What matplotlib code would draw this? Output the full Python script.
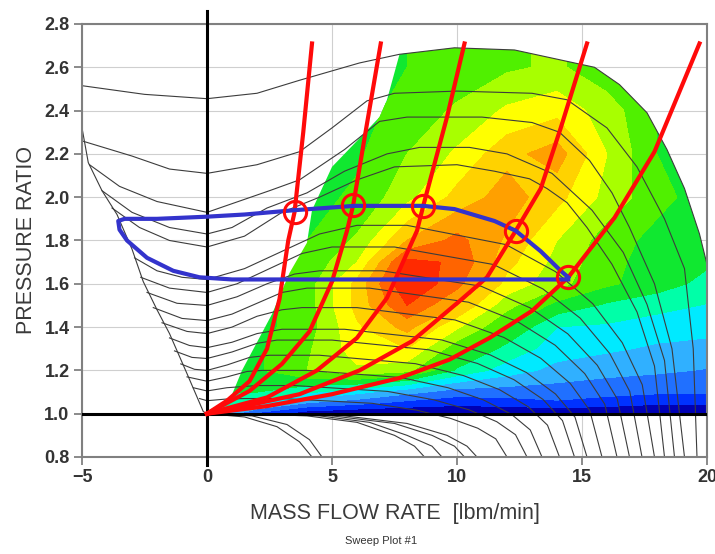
import numpy as np
import matplotlib
matplotlib.use("Agg")
import matplotlib.pyplot as plt
from matplotlib.patches import Polygon

plt.rcParams['font.family'] = ['Liberation Sans', 'DejaVu Sans']

# efficiency field (percent)
EFF_X = [0, 2, 4, 6, 8, 10, 12, 14, 16, 18, 20]
EFF_Y = [1.0, 1.05, 1.1, 1.2, 1.3, 1.4, 1.5, 1.6, 1.7, 1.8, 2.0, 2.2, 2.4, 2.6, 2.8]
EFF = [
    [55, 45, 41, 40, 40, 40, 40, 40, 40, 40, 40],
    [57, 54, 49, 47, 45, 44, 44.5, 45.5, 44.5, 43.5, 43.5],
    [58, 58, 55.5, 53, 50, 47.5, 47.5, 47.5, 47, 46.5, 46.5],
    [59, 60.5, 64, 66.5, 65, 57.5, 53.5, 51, 50, 49.5, 48.8],
    [59, 60.5, 63.5, 68.5, 70, 62, 57, 53.5, 52.5, 51.5, 51],
    [59, 60, 62.5, 69.5, 74, 67.5, 61, 55, 54.5, 53.5, 53],
    [59, 60, 62.5, 71, 79, 73, 65, 60, 57.5, 56, 54.8],
    [59, 60, 62.5, 71, 82, 77, 69, 65, 61.5, 59.5, 57],
    [59, 60, 61.5, 67, 80, 78.5, 71, 66, 62, 59.5, 58.5],
    [59, 60, 61, 64.5, 73, 77, 72.5, 67, 62.5, 60, 59],
    [59, 60, 60, 61.5, 66, 71, 74.5, 71, 66, 62, 59.5],
    [59, 60, 60, 60.5, 64, 67.5, 72, 74.5, 67, 61, 58],
    [59, 60, 60, 60, 62, 64.5, 67.5, 69, 65.5, 61, 58],
    [59, 60, 60, 60, 61, 62, 63.5, 64.5, 62, 59.5, 57],
    [59, 60, 60, 60, 61, 62, 63.5, 64.5, 62, 59.5, 57],
]
EFF_LEVELS = [30, 43, 46, 49, 52, 55, 58, 61, 64, 67, 70, 73, 76, 79, 90]
EFF_COLORS = ['#0000b4', '#0032ff', '#2070ff', '#30b0ff', '#00eaff', '#00ffa8',
              '#10e830', '#50f000', '#a8ff00', '#ffff00', '#ffd200', '#ffa000',
              '#ff6400', '#ff2a00']

# map envelope (surge line, top speed, choke side)
ENV_X = [0, 0.9, 1.4, 2.6, 3.3, 4.0, 4.2, 5.0, 6.0, 6.9, 7.2, 7.7, 9.9, 12.3,
         13.9, 15.5, 16.5, 17.6, 18.4, 19.1, 19.7, 20.3, 20.3, 0]
ENV_Y = [1.0, 1.06, 1.2, 1.46, 1.65, 1.79, 1.94, 2.14, 2.26, 2.37, 2.45, 2.66, 2.69,
         2.68, 2.64, 2.60, 2.52, 2.39, 2.22, 2.04, 1.83, 1.55, 1.0, 1.0]

# speed lines
SPEED_LINES = [
    ([-5, -2.5, 0, 2, 3.7, 6.1, 7.7, 9.9, 12.3, 13.9, 15.5, 16.5, 17.6, 18.4, 19.1, 19.7, 20.3],
     [2.515, 2.475, 2.455, 2.48, 2.54, 2.62, 2.66, 2.69, 2.68, 2.64, 2.60, 2.52, 2.39, 2.22, 2.04, 1.83, 1.55]),
    ([-5, -3, -1.5, 0, 2, 3.7, 5, 6.4, 7.5, 10, 13, 14.4, 16.0, 17.2, 18.3, 19.1, 19.45, 19.6],
     [2.26, 2.19, 2.13, 2.11, 2.15, 2.21, 2.32, 2.445, 2.48, 2.49, 2.48, 2.45, 2.32, 2.14, 1.9, 1.67, 1.3, 0.8]),
    ([-4.7, -3.5, -2, 0, 1, 2.5, 3.7, 5.5, 6.9, 8, 11, 13, 14.1, 15.3, 16.2, 16.9, 17.9, 18.6, 19.1],
     [2.15, 2.05, 1.98, 1.93, 1.97, 2.03, 2.08, 2.22, 2.35, 2.37, 2.37, 2.345, 2.3, 2.17, 2.02, 1.86, 1.6, 1.3, 0.8]),
    ([-4.2, -3, -1.5, 0, 1, 2.4, 4, 5.5, 7.2, 8.5, 10.5, 12, 13.8, 15.4, 16.65, 17.6, 18.3, 18.7],
     [2.03, 1.93, 1.86, 1.83, 1.86, 1.95, 2.02, 2.12, 2.2, 2.23, 2.23, 2.2, 2.11, 1.94, 1.745, 1.505, 1.246, 0.8]),
    ([-3.8, -2.7, -1.5, 0, 1.5, 3.0, 4.5, 6, 7.5, 10, 11.5, 12.9, 13.6, 14.4, 15.2, 16.2, 17.2, 17.9, 18.3],
     [1.95, 1.86, 1.8, 1.77, 1.82, 1.93, 2.0, 2.08, 2.14, 2.15, 2.12, 2.085, 2.04, 1.975, 1.86, 1.69, 1.47, 1.22, 0.8]),
    ([-2.9, -2, -1, 0, 1.5, 3, 4.5, 6, 8, 11.96, 13.94, 15.43, 16.61, 17.41, 17.9],
     [1.72, 1.66, 1.63, 1.62, 1.67, 1.75, 1.83, 1.87, 1.87, 1.781, 1.656, 1.508, 1.328, 1.134, 0.8]),
    ([-2.65, -1.5, 0, 1.2, 2.5, 3.8, 5, 7.5, 11.46, 13.44, 14.93, 16.11, 16.91, 17.4],
     [1.63, 1.58, 1.56, 1.6, 1.67, 1.74, 1.77, 1.77, 1.689, 1.576, 1.441, 1.278, 1.103, 0.8]),
    ([-2.4, -1.2, 0, 1.2, 2.4, 3.5, 4.5, 7, 10.96, 12.94, 14.43, 15.61, 16.41, 16.9],
     [1.56, 1.51, 1.5, 1.54, 1.6, 1.645, 1.66, 1.66, 1.589, 1.488, 1.369, 1.224, 1.068, 0.8]),
    ([-2.15, -1, 0, 1, 2, 3, 4, 6.5, 10.46, 12.44, 13.93, 15.11, 15.91, 16.4],
     [1.49, 1.44, 1.43, 1.46, 1.51, 1.56, 1.58, 1.58, 1.515, 1.424, 1.316, 1.185, 1.044, 0.8]),
    ([-1.8, -0.8, 0, 1, 2, 3, 3.8, 6, 9.92, 11.88, 13.35, 14.53, 15.31, 15.8],
     [1.42, 1.38, 1.37, 1.4, 1.45, 1.48, 1.49, 1.49, 1.433, 1.352, 1.256, 1.14, 1.015, 0.8]),
    ([-1.5, -0.7, 0, 1, 2, 3, 5.5, 9.38, 11.32, 12.78, 13.94, 14.72, 15.2],
     [1.35, 1.315, 1.305, 1.33, 1.37, 1.39, 1.39, 1.341, 1.272, 1.19, 1.091, 0.984, 0.8]),
    ([-1.3, -0.6, 0, 1, 2, 2.8, 5, 8.88, 10.82, 12.28, 13.44, 14.22, 14.7],
     [1.29, 1.26, 1.255, 1.285, 1.325, 1.34, 1.34, 1.295, 1.232, 1.157, 1.066, 0.968, 0.8]),
    ([-1.05, -0.5, 0, 0.8, 1.7, 2.5, 4.5, 8.34, 10.26, 11.7, 12.85, 13.62, 14.1],
     [1.23, 1.205, 1.2, 1.225, 1.26, 1.27, 1.27, 1.231, 1.176, 1.111, 1.032, 0.947, 0.8]),
    ([-0.8, 0, 0.8, 1.6, 2.2, 4, 7.76, 9.64, 11.05, 12.18, 12.93, 13.4],
     [1.17, 1.15, 1.17, 1.195, 1.2, 1.2, 1.167, 1.12, 1.064, 0.997, 0.925, 0.8]),
    ([-0.55, 0, 0.8, 2, 3.5, 7.22, 9.08, 10.48, 11.59, 12.34, 12.8],
     [1.12, 1.105, 1.12, 1.13, 1.13, 1.103, 1.064, 1.018, 0.963, 0.903, 0.8]),
    ([-0.3, 0, 0.8, 1.5, 3, 6.6, 8.4, 9.75, 10.83, 11.55, 12.0],
     [1.07, 1.06, 1.068, 1.07, 1.07, 1.048, 1.016, 0.978, 0.933, 0.884, 0.8]),
    ([0, 1.5, 2.8, 3.7, 4.2], [1.0, 0.985, 0.94, 0.87, 0.8]),
    ([0, 1.8, 3.2, 4.1, 4.6], [1.0, 0.99, 0.95, 0.88, 0.8]),
    ([1.5, 4, 6, 7.5, 8.3, 8.7], [1.0, 0.99, 0.96, 0.9, 0.85, 0.8]),
    ([2, 4.5, 6.5, 8, 9, 9.4], [1.0, 0.99, 0.96, 0.9, 0.85, 0.8]),
    ([2.5, 5, 7.5, 9, 9.9, 10.3], [1.0, 0.99, 0.955, 0.9, 0.85, 0.8]),
    ([3, 5.5, 8, 9.6, 10.4, 10.8], [1.0, 0.99, 0.955, 0.9, 0.85, 0.8]),
    # stall boundary on the negative-flow side
    ([-5, -4.75, -4.2, -3.6, -3.0, -2.55, -2.0, -1.5, -0.8, -0.15, 0],
     [2.32, 2.16, 2.03, 1.92, 1.76, 1.61, 1.48, 1.37, 1.185, 1.01, 1.0]),
]

# throttle (operating) lines
RED_LINES = [
    ([0, 0.8, 1.7, 2.4, 2.9, 3.25, 3.5, 3.85, 4.2],
     [1.0, 1.06, 1.15, 1.3, 1.53, 1.80, 1.93, 2.3, 2.71]),
    ([0, 1.7, 3.0, 4.1, 5.0, 5.6, 5.85, 6.4, 6.95],
     [1.0, 1.105, 1.23, 1.38, 1.61, 1.845, 1.965, 2.34, 2.71]),
    ([0, 2.4, 4.4, 6.0, 7.2, 8.4, 8.65, 9.6, 10.3],
     [1.0, 1.075, 1.2, 1.35, 1.535, 1.845, 1.96, 2.37, 2.71]),
    ([0, 1.3, 3.7, 6.1, 8.2, 10.1, 11.2, 12.35, 13.35, 14.15, 15.2],
     [1.0, 1.03, 1.09, 1.2, 1.335, 1.52, 1.63, 1.845, 2.04, 2.32, 2.71]),
    ([0, 2.4, 5.0, 7.7, 9.7, 11.3, 13.0, 14.45, 16.3, 17.9, 19.7],
     [1.0, 1.035, 1.09, 1.165, 1.25, 1.35, 1.475, 1.63, 1.905, 2.21, 2.71]),
]
CIRCLE_X = [3.5, 5.85, 8.65, 12.35, 14.45]
CIRCLE_Y = [1.93, 1.965, 1.96, 1.845, 1.63]

# sweep loop
LOOP_X = [14.45, 14.15, 13.35, 12.35, 11.5, 9.9, 8.65, 5.9, 3.5, 1.5, 0, -2, -3.3, -3.55,
          -3.5, -3.2, -2.4, -1.35, -0.3, 1, 14.45]
LOOP_Y = [1.63, 1.66, 1.75, 1.845, 1.89, 1.945, 1.96, 1.96, 1.94, 1.92, 1.91, 1.9, 1.9, 1.89,
          1.85, 1.8, 1.72, 1.66, 1.63, 1.62, 1.62]

X_TICKS = [-5, 0, 5, 10, 15, 20]
Y_TICKS = [0.8, 1.0, 1.2, 1.4, 1.6, 1.8, 2.0, 2.2, 2.4, 2.6, 2.8]

fig = plt.figure(figsize=(7.15, 5.54), dpi=100)
ax = fig.add_axes([0.1147, 0.1751, 0.8741, 0.7816])
ax.set_xlim(-5, 20)
ax.set_ylim(0.8, 2.8)

# coloured efficiency island, clipped to the envelope
cs = ax.contourf(EFF_X, EFF_Y, EFF, levels=EFF_LEVELS, colors=EFF_COLORS, zorder=1)
env = Polygon(np.column_stack([ENV_X, ENV_Y]), closed=True, transform=ax.transData)
cs.set_clip_path(env)

for xs, ys in SPEED_LINES:
    ax.plot(xs, ys, color='#3c3c3c', lw=0.8, zorder=2)

ax.axhline(1.0, color='black', lw=2.2, zorder=3)
ax.axvline(0, ymin=-0.018, ymax=1.03, color='black', lw=2.2, zorder=3, clip_on=False)

for xs, ys in RED_LINES:
    ax.plot(xs, ys, color='#ff0a0a', lw=3, zorder=5)
ax.plot(LOOP_X, LOOP_Y, color='#3333cc', lw=3, zorder=6)
ax.plot(CIRCLE_X, CIRCLE_Y, 'o', ms=16, mfc='none', mec='#ff0a0a', mew=2.2, zorder=7)

ax.set_xticks(X_TICKS)
ax.set_yticks(Y_TICKS)
ax.set_yticklabels([f"{v:.1f}" for v in Y_TICKS])
ax.tick_params(length=6, width=1.2, color='#777777', labelsize=13, labelcolor='#333333', pad=3)
for lbl in ax.get_xticklabels() + ax.get_yticklabels():
    lbl.set_fontweight('bold')

ax.grid(True, color='#cfcfcf', lw=0.8)
ax.set_axisbelow(True)
for sp in ax.spines.values():
    sp.set_color('#808080')
    sp.set_linewidth(1.5)

ax.set_xlabel("MASS FLOW RATE  [lbm/min]", fontsize=15.5, color='#3a3a3a', labelpad=12)
ax.set_ylabel("PRESSURE RATIO", fontsize=15.5, color='#3a3a3a', labelpad=5)
fig.text(0.533, 0.0235, "Sweep Plot #1", fontsize=8, ha='center', va='center', color='#333333')

fig.savefig('out.png', dpi=100)
